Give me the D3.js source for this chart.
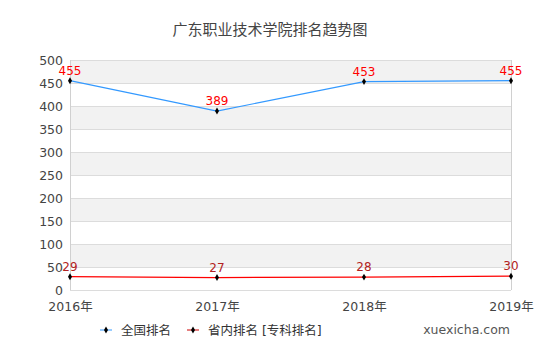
<!DOCTYPE html>
<html>
<head>
<meta charset="utf-8">
<script src="https://cdn.jsdelivr.net/npm/d3@7"></script>
<style>
  body { margin: 0; background: #fff; }
  text { font-family: "DejaVu Sans", "Noto Sans CJK SC", sans-serif; }
</style>
</head>
<body>
<div id="chart"></div>
<script>
var years = ['2016年', '2017年', '2018年', '2019年'];
var national = [455, 389, 453, 455];
var provincial = [29, 27, 28, 30];
var yTicks = [0, 50, 100, 150, 200, 250, 300, 350, 400, 450, 500];

var chartWidth = 540;
var chartHeight = 360;
var plotLeft = 70, plotRight = 511, plotTop = 60, plotBottom = 290;

var svg = d3.select('#chart')
    .append('svg')
    .attr('width', chartWidth)
    .attr('height', chartHeight);

var scaleX = d3.scalePoint()
    .domain(years)
    .range([plotLeft, plotRight]);

var scaleY = d3.scaleLinear()
    .domain([0, 500])
    .range([plotBottom, plotTop]);

// Bands
var bands = [];
for (var i = 0; i < yTicks.length - 1; i++) {
  bands.push([yTicks[i], yTicks[i + 1], i]);
}
svg.append('g').selectAll('rect')
    .data(bands)
    .enter()
    .append('rect')
    .attr('x', plotLeft)
    .attr('width', plotRight - plotLeft)
    .attr('y', function(d) { return scaleY(d[1]); })
    .attr('height', function(d) { return scaleY(d[0]) - scaleY(d[1]); })
    .attr('fill', function(d) { return d[2] % 2 === 1 ? '#f2f2f2' : '#fff'; });

// Grid lines
svg.append('g').selectAll('line')
    .data(yTicks)
    .enter()
    .append('line')
    .attr('x1', plotLeft)
    .attr('x2', plotRight)
    .attr('y1', function(d) { return Math.round(scaleY(d)) + 0.5; })
    .attr('y2', function(d) { return Math.round(scaleY(d)) + 0.5; })
    .attr('stroke', '#dcdcdc');

// Frame sides
svg.append('line')
    .attr('x1', plotLeft + 0.5).attr('x2', plotLeft + 0.5)
    .attr('y1', plotTop).attr('y2', plotBottom)
    .attr('stroke', '#d0d0d0');
svg.append('line')
    .attr('x1', plotRight + 0.5).attr('x2', plotRight + 0.5)
    .attr('y1', plotTop).attr('y2', plotBottom)
    .attr('stroke', '#d0d0d0');

// Y axis labels
var axisY = d3.axisLeft(scaleY)
    .tickValues(yTicks)
    .tickSize(0)
    .tickPadding(7);
var gy = svg.append('g')
    .attr('transform', 'translate(' + plotLeft + ',0)')
    .call(axisY);
gy.select('.domain').remove();
gy.selectAll('text')
    .attr('fill', '#444')
    .style('font-size', '12.5px');

// X axis labels
var axisX = d3.axisBottom(scaleX)
    .tickSize(0)
    .tickPadding(12);
var gx = svg.append('g')
    .attr('transform', 'translate(0,' + plotBottom + ')')
    .call(axisX);
gx.select('.domain').remove();
gx.selectAll('text')
    .attr('fill', '#444')
    .style('font-size', '12.5px');

// Title
svg.append('text')
    .attr('x', 270)
    .attr('y', 35)
    .attr('text-anchor', 'middle')
    .attr('fill', '#444')
    .style('font-size', '15px')
    .text('广东职业技术学院排名趋势图');

function drawSeries(values, color, labelColor) {
  var line = d3.line()
      .x(function(d, i) { return scaleX(years[i]); })
      .y(function(d) { return scaleY(d); });
  svg.append('path')
      .datum(values)
      .attr('d', line)
      .attr('fill', 'none')
      .attr('stroke', color)
      .attr('stroke-width', 1.2);
  var g = svg.append('g');
  g.selectAll('path')
      .data(values)
      .enter()
      .append('path')
      .attr('d', d3.symbol().type(d3.symbolDiamond).size(14))
      .attr('transform', function(d, i) {
        return 'translate(' + scaleX(years[i]) + ',' + scaleY(d) + ')';
      })
      .attr('fill', '#000');
  g.selectAll('text')
      .data(values)
      .enter()
      .append('text')
      .attr('x', function(d, i) { return scaleX(years[i]); })
      .attr('y', function(d) { return scaleY(d) - 6; })
      .attr('text-anchor', 'middle')
      .attr('fill', labelColor)
      .style('font-size', '12px')
      .text(function(d) { return d; });
}

drawSeries(national, '#3399ff', '#ff0000');
drawSeries(provincial, '#ff0000', '#b22222');

// Legend
var legend = [
  {name: '全国排名', color: '#3399ff', x: 100},
  {name: '省内排名 [专科排名]', color: '#cc0000', x: 187}
];
var lg = svg.append('g').selectAll('g')
    .data(legend)
    .enter()
    .append('g')
    .attr('transform', function(d) { return 'translate(' + d.x + ',330)'; });
lg.append('line')
    .attr('x1', 0).attr('x2', 12)
    .attr('stroke', function(d) { return d.color; });
lg.append('path')
    .attr('d', d3.symbol().type(d3.symbolDiamond).size(14))
    .attr('transform', 'translate(6,0)')
    .attr('fill', '#000');
lg.append('text')
    .attr('x', 21)
    .attr('y', 4.5)
    .attr('fill', '#333')
    .style('font-size', '12.5px')
    .text(function(d) { return d.name; });

svg.append('text')
    .attr('x', 510)
    .attr('y', 334)
    .attr('text-anchor', 'end')
    .attr('fill', '#555')
    .style('font-size', '12.5px')
    .text('xuexicha.com');
</script>
</body>
</html>
